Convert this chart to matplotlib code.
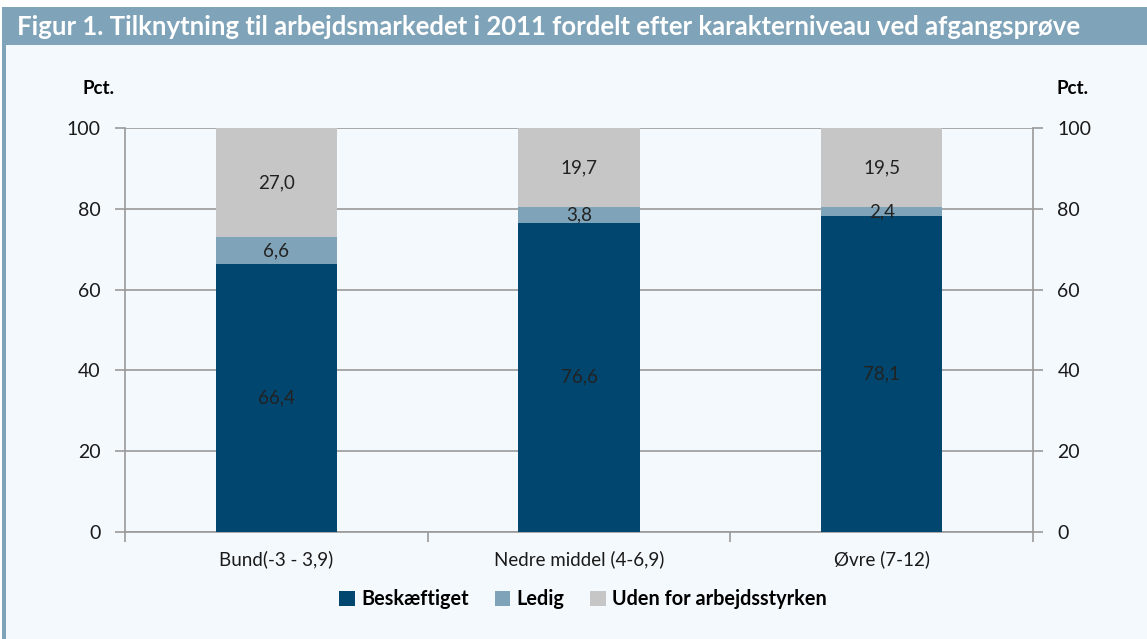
import matplotlib

matplotlib.use("Agg")
import matplotlib.pyplot as plt  # noqa: E402
from matplotlib.patches import Rectangle  # noqa: E402
import numpy as np  # noqa: E402

categories = ["Bund(-3 - 3,9)", "Nedre middel (4-6,9)", "Øvre (7-12)"]
beskaeftiget = [66.4, 76.6, 78.1]
ledig = [6.6, 3.8, 2.4]
uden = [27.0, 19.7, 19.5]
series_names = ["Beskæftiget", "Ledig", "Uden for arbejdsstyrken"]
yticks = [0, 20, 40, 60, 80, 100]
title = "Figur 1. Tilknytning til arbejdsmarkedet i 2011 fordelt efter karakterniveau ved afgangsprøve"

COLORS = ["#00466e", "#7fa3b8", "#c6c6c6"]
BG = "#f4f9fd"
BAR = "#7fa3b8"
GRID = "#9a9a9a"
FONT = ["Lato", "DejaVu Sans"]

plt.rcParams["font.family"] = FONT

W, H = 1147, 639
fig = plt.figure(figsize=(W / 100, H / 100), dpi=100)
fig.patch.set_facecolor("white")

# light panel + left border + title bar
fig.add_artist(Rectangle((2 / W, 0), 1 - 2 / W, 1 - 45 / H, transform=fig.transFigure,
                         facecolor=BG, edgecolor="none", zorder=0))
fig.add_artist(Rectangle((2 / W, 0), 4 / W, 1 - 7 / H, transform=fig.transFigure,
                         facecolor=BAR, edgecolor="none", zorder=1))
fig.add_artist(Rectangle((2 / W, 1 - 45 / H), 1 - 2 / W, 38 / H, transform=fig.transFigure,
                         facecolor=BAR, edgecolor="none", zorder=1))
fig.text(17 / W, 1 - 27 / H, title, color="white", fontsize=18.5, fontweight="bold",
         va="center", ha="left", zorder=2)

ax = fig.add_axes([125 / W, 1 - 532 / H, 908 / W, 404 / H])
ax.set_facecolor(BG)
x = np.arange(len(categories))
bw = 0.4
bottoms = np.zeros(len(categories))
for vals, color, name in zip([beskaeftiget, ledig, uden], COLORS, series_names):
    bars = ax.bar(x, vals, bw, bottom=bottoms, color=color, label=name, zorder=3)
    for rect, v, b in zip(bars, vals, bottoms):
        ax.text(rect.get_x() + rect.get_width() / 2, b + v / 2, f"{v:.1f}".replace(".", ","),
                ha="center", va="center", fontsize=13.5, color="#222222", zorder=4)
    bottoms += np.array(vals)

ax.set_xlim(-0.5, len(categories) - 0.5)
ax.set_ylim(0, 100)
ax.set_yticks(yticks)
ax.tick_params(axis="y", which="major", direction="out", length=7, color=GRID, width=1.2,
               labelsize=14, labelcolor="#1a1a1a", pad=10.5,
               left=True, right=True, labelleft=True, labelright=True)
ax.set_xticks(x)
ax.set_xticklabels(categories)
ax.set_xticks(np.arange(len(categories) + 1) - 0.5, minor=True)
ax.tick_params(axis="x", which="major", length=0, labelsize=13.5, labelcolor="#1a1a1a", pad=13)
ax.tick_params(axis="x", which="minor", length=7, color=GRID, width=1.2, direction="out")
ax.grid(axis="y", color=GRID, lw=1.2, zorder=1)
for side in ["left", "right", "bottom"]:
    ax.spines[side].set_color(GRID)
    ax.spines[side].set_linewidth(1.2)
ax.spines["top"].set_visible(False)

fig.text(99 / W, 1 - 88 / H, "Pct.", fontsize=13.5, fontweight="bold", ha="center", va="center")
fig.text(1072 / W, 1 - 88 / H, "Pct.", fontsize=13.5, fontweight="bold", ha="center", va="center")

leg = fig.legend(*ax.get_legend_handles_labels(), loc="center", bbox_to_anchor=(583 / W, 1 - 599 / H),
                 ncol=3, frameon=False, handlelength=0.8, handleheight=0.8, handletextpad=0.3,
                 columnspacing=1.3, prop={"weight": "bold", "size": 14.3})

fig.savefig("out.png", dpi=100, facecolor=fig.get_facecolor())
